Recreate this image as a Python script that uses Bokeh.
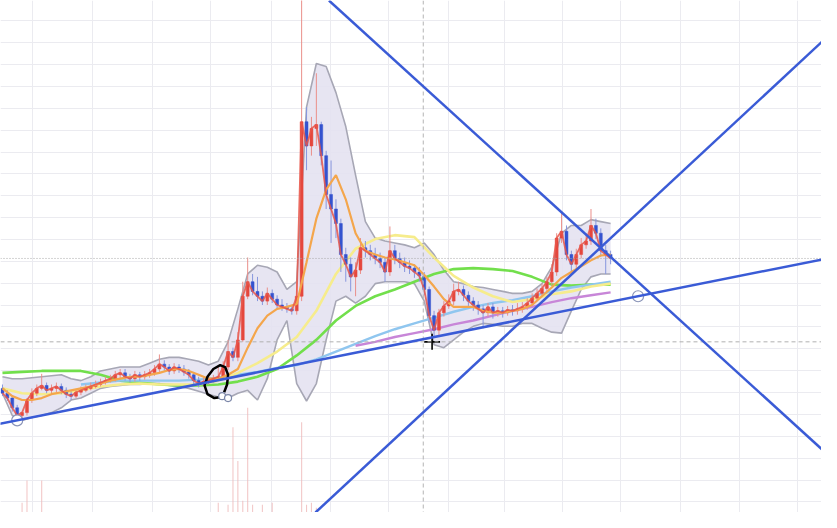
from bokeh.plotting import figure
from bokeh.models import Range1d, FixedTicker, Span, Slope, ColumnDataSource
from bokeh.embed import file_html
from bokeh.resources import INLINE

# ---------------- data (time index = candle number, price in chart units) -------------
first_open = 128
closes = [123, 118, 108, 100, 103, 116, 123, 128, 131, 126, 128, 130, 126, 122, 120, 124,
          126, 128, 130, 132, 134, 136, 138, 142, 144, 140, 138, 142, 140, 142, 144, 148,
          153, 150, 146, 150, 148, 145, 142, 136, 133, 135, 136, 138, 140, 150, 166, 160,
          178, 223, 238, 228, 223, 218, 226, 220, 214, 212, 210, 208, 223, 403, 378, 396,
          400, 368, 328, 313, 298, 266, 256, 243, 250, 273, 270, 266, 262, 258, 248, 270,
          262, 258, 254, 252, 248, 244, 230, 203, 188, 206, 213, 218, 228, 230, 224, 218,
          214, 210, 206, 212, 206, 208, 206, 209, 208, 210, 212, 216, 221, 226, 231, 238,
          248, 283, 290, 266, 256, 266, 276, 280, 296, 288, 270, 266, 262]
highs = [132, 126, 121, 111, 104, 118, 128, 132, 143, 134, 132, 134, 133, 129, 125, 127,
         130, 132, 134, 136, 138, 140, 142, 146, 148, 148, 143, 146, 145, 146, 148, 152,
         163, 157, 153, 154, 153, 152, 148, 145, 140, 139, 140, 142, 150, 156, 178, 170,
         186, 238, 263, 246, 243, 228, 232, 230, 224, 220, 216, 214, 238, 548, 418, 408,
         453, 403, 373, 363, 323, 303, 273, 263, 258, 283, 280, 276, 273, 268, 263, 295,
         276, 268, 263, 260, 256, 253, 248, 233, 208, 210, 218, 225, 236, 238, 234, 228,
         222, 218, 214, 216, 216, 212, 212, 213, 214, 216, 217, 221, 226, 231, 236, 243,
         256, 288, 310, 296, 270, 272, 283, 288, 313, 303, 293, 276, 270]
lows = [120, 115, 104, 96, 97, 100, 113, 120, 126, 123, 122, 124, 122, 118, 116, 118,
        121, 124, 126, 128, 130, 132, 134, 135, 138, 136, 134, 135, 136, 137, 139, 141,
        145, 146, 142, 143, 144, 141, 138, 132, 129, 130, 132, 134, 136, 138, 147, 156,
        156, 176, 220, 224, 218, 214, 214, 216, 210, 208, 206, 204, 204, 218, 353, 368,
        378, 358, 313, 278, 283, 248, 238, 228, 223, 246, 263, 260, 256, 252, 238, 244,
        256, 252, 248, 246, 242, 238, 224, 196, 180, 183, 202, 210, 214, 224, 218, 212,
        208, 204, 190, 202, 200, 202, 201, 203, 203, 204, 206, 209, 213, 218, 223, 228,
        234, 244, 278, 260, 248, 252, 262, 272, 276, 282, 264, 246, 256]
volume = [0, 0, 0, 0, 10, 33, 0, 0, 33, 0, 0, 0, 0, 0, 0, 0,
          0, 0, 0, 0, 0, 0, 0, 0, 0, 0, 0, 0, 0, 0, 0, 0,
          0, 0, 0, 0, 0, 0, 0, 0, 0, 0, 0, 0, 10, 0, 8, 88,
          53, 12, 108, 8, 0, 8, 0, 10, 0, 0, 0, 0, 0, 93, 8, 10,
          5, 0, 0, 0, 0, 0, 0, 0, 0, 0, 0, 0, 0, 0, 0, 0,
          0, 0, 0, 0, 0, 0, 0, 0, 0, 0, 0, 0, 0, 0, 0, 0,
          0, 0, 0, 0, 0, 0, 0, 0, 0, 0, 0, 0, 0, 0, 0, 0,
          0, 0, 0, 0, 0, 0, 0, 0, 0, 0, 0, 0, 0]

# Bollinger band and 20-period MA, sampled every 2 candles
band_t = list(range(0, 125, 2))
bb_upper = [140, 138, 138, 139, 140, 141, 142, 138, 136, 140, 146, 148, 150, 150, 150, 154,
            158, 160, 160, 158, 156, 152, 156, 176, 210, 246, 255, 253, 248, 230, 238, 418,
            463, 460, 433, 398, 348, 300, 283, 280, 278, 276, 273, 278, 266, 250, 238, 236,
            233, 232, 230, 228, 226, 226, 228, 236, 253, 288, 296, 296, 302, 300, 298]
bb_lower = [123, 100, 95, 98, 100, 103, 108, 116, 118, 123, 128, 130, 131, 132, 132, 133,
            133, 131, 130, 128, 125, 122, 119, 118, 123, 126, 116, 138, 178, 198, 133, 115,
            133, 178, 218, 223, 216, 223, 236, 238, 238, 238, 236, 218, 173, 170, 178, 186,
            192, 195, 194, 192, 192, 195, 195, 190, 186, 185, 208, 230, 243, 246, 246]
ma_orange = [128, 120, 116, 116, 118, 122, 124, 126, 128, 130, 133, 136, 138, 140, 140, 142,
             144, 147, 148, 146, 142, 138, 138, 142, 148, 170, 190, 203, 210, 212, 215, 258,
             303, 333, 348, 323, 288, 270, 266, 263, 261, 258, 255, 245, 233, 220, 212, 212,
             212, 208, 206, 206, 208, 210, 214, 223, 232, 242, 248, 254, 260, 265, 266]

# slower moving averages, sampled every 4 candles
slow_t = list(range(0, 125, 4))
ma_yellow = [128, 123, 122, 123, 126, 130, 132, 133, 132, 132, 132, 136, 144, 154, 166, 181,
             208, 246, 272, 282, 286, 284, 263, 244, 232, 223, 217, 220, 225, 228, 233, 236]
ma_green = [144, 145, 146, 146, 146, 142, 136, 134, 132, 131, 131, 132, 135, 140, 148, 162,
            178, 198, 213, 223, 230, 238, 246, 251, 252, 251, 249, 243, 235, 234, 235, 235]
blue_t = list(range(16, 125, 4))
ma_lightblue = [132, 134, 136, 136, 136, 136, 137, 139, 142, 145, 149, 152, 158, 166, 174, 182,
                189, 195, 201, 207, 212, 216, 219, 223, 228, 232, 235, 238]
purple_t = list(range(72, 125, 4))
ma_purple = [172, 176, 181, 185, 189, 194, 198, 203, 208, 212, 217, 221, 224, 227]

# drawn trend lines: two anchor points each (time, price)
tl_support = [(3.0, 95), (129.6, 223)]
tl_down = [(79.6, 468), (110.0, 328)]
tl_up = [(133.6, 328), (167.0, 485)]

# hand drawings
loop_t = [44.8, 43.2, 41.8, 41.2, 41.8, 43.0, 44.4, 45.4, 46.0, 45.8, 45.2]
loop_p = [119, 118, 122, 131, 140, 148, 152, 150, 142, 132, 124]
dots_t = [44.8, 46.0]
dots_p = [120, 118]
cross_t = [87.6]
cross_p = [176]
crosshair_t = 85.8
crosshair_p = 176
dotted_level = 262

grid_t = [6.2, 18.4, 30.6, 42.4, 54.8, 66.8, 78.8, 91.0, 102.4, 114.2, 126.0, 138.2, 150.2, 162.2]

# ---------------- figure ----------------
p = figure(width=821, height=512, output_backend="svg", toolbar_location=None,
           x_range=Range1d(-0.4, 167.0), y_range=Range1d(0, 528),
           min_border=0, background_fill_color="white", border_fill_color="white")
p.xaxis.visible = False
p.yaxis.visible = False
p.outline_line_color = None
p.xgrid.ticker = FixedTicker(ticks=grid_t)
p.ygrid.ticker = FixedTicker(ticks=[507 - 22.55 * k for k in range(23)])
p.grid.grid_line_color = "#ebebf0"
p.grid.grid_line_width = 1

t = list(range(len(closes)))
opens = [first_open] + closes[:-1]
up_col, dn_col = "#e5473d", "#3553cf"
colors = [up_col if c >= o else dn_col for o, c in zip(opens, closes)]
wick_colors = ["#ea8f8a" if c >= o else "#8796dd" for o, c in zip(opens, closes)]
src = ColumnDataSource(dict(t=t, open=opens, close=closes, high=highs, low=lows,
                            vol=volume, color=colors, wcolor=wick_colors,
                            top=[max(o, c) for o, c in zip(opens, closes)],
                            bottom=[min(o, c) for o, c in zip(opens, closes)]))

# Bollinger band
p.varea(x=band_t, y1=bb_lower, y2=bb_upper, fill_color="#e4e2f1", fill_alpha=0.9)
p.line(band_t, bb_upper, line_color="#a7a7b5", line_width=1.6)
p.line(band_t, bb_lower, line_color="#a7a7b5", line_width=1.6)

# volume
p.vbar(x="t", top="vol", bottom=0, width=0.22, source=src,
       fill_color="#efb9b9", line_color=None, fill_alpha=0.8)

# moving averages (slow)
p.line(slow_t, ma_green, line_color="#72df4c", line_width=2.6)
p.line(blue_t, ma_lightblue, line_color="#8fc6ef", line_width=2.4)
p.line(purple_t, ma_purple, line_color="#c886d8", line_width=2.4)
p.line(slow_t, ma_yellow, line_color="#f6ec8c", line_width=2.6)

# candles
p.segment(x0="t", y0="low", x1="t", y1="high", line_color="wcolor", line_width=1, source=src)
p.vbar(x="t", top="top", bottom="bottom", width=0.6, fill_color="color",
       line_color="color", line_width=0.5, source=src)

p.line(band_t, ma_orange, line_color="#f4a64c", line_width=2.2)
p.line(t, closes, line_color="#e8564a", line_width=1.8, line_alpha=0.85)

# crosshair / levels
p.add_layout(Span(location=crosshair_t, dimension="height", line_color="#b4b4b4",
                  line_dash="4 3", line_width=1))
p.add_layout(Span(location=crosshair_p, dimension="width", line_color="#b0b0b0",
                  line_dash="4 3", line_width=1))
p.add_layout(Span(location=dotted_level, dimension="width", line_color="#a8a8a8",
                  line_dash="1 2", line_width=1))

# trend lines
for (t1, p1), (t2, p2) in (tl_support, tl_down, tl_up):
    g = (p2 - p1) / (t2 - t1)
    p.add_layout(Slope(gradient=g, y_intercept=p1 - g * t1,
                       line_color="#3a5bd6", line_width=2.5))

p.scatter([a[0] for a in tl_support], [a[1] for a in tl_support], marker="circle",
          size=11, fill_color="white", line_color="#8a94b8", line_width=1.2)

# hand drawing
p.line(loop_t, loop_p, line_color="black", line_width=2.5)
p.scatter(dots_t, dots_p, marker="circle", size=7, fill_color="white",
          line_color="#7b86a8", line_width=1.2)
p.scatter(cross_t, cross_p, marker="cross", size=16, line_color="black", line_width=1.6)

open("out.html", "w").write(file_html(p, INLINE))
